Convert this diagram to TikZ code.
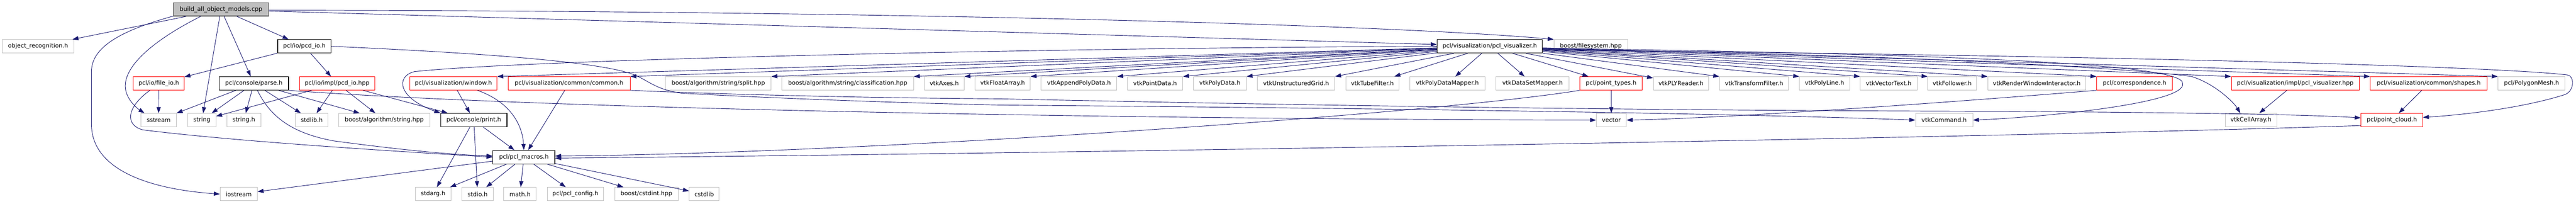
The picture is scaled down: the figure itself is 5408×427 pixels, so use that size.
\documentclass[tikz,border=0pt]{standalone}
\usepackage{fontspec}
\setmainfont{DejaVu Sans}
\usetikzlibrary{arrows.meta}
\definecolor{edgeblue}{RGB}{25,25,112}
\definecolor{extgray}{RGB}{191,191,191}

\begin{document}
\begin{tikzpicture}[x = 0.75pt, y = -0.75pt,
  filebox/.style = {shape = rectangle, minimum height = 21pt, minimum width = #1*0.75pt, inner sep = 0pt, font = \fontsize{9.3}{11}\selectfont, line width = 0.75pt},
  ext/.style = {filebox = #1, draw = extgray},
  doc/.style = {filebox = #1, draw = black, line width = 1pt},
  trunc/.style = {filebox = #1, draw = red},
  rootbox/.style = {filebox = #1, draw = black!70, fill = extgray, line width = 1.1pt},
  dep/.style = {draw = edgeblue, line width = 0.75pt, -{Triangle[length = 9.5pt, width = 6.5pt]}}]
\useasboundingbox (0,0) rectangle (5408,427);

\node[rootbox = 200] (root) at (464,19.7) {build\_all\_object\_models.cpp};

\node[ext = 150] (objrec) at (80,97) {object\_recognition.h};
\node[doc = 112] (pcdio) at (639,97) {pcl/io/pcd\_io.h};
\node[doc = 221] (vis) at (3127.5,97) {pcl/visualization/pcl\_visualizer.h};
\node[ext = 154.5] (fs) at (3339.7,97) {boost/filesystem.hpp};

\node[trunc = 106.7] (fileio) at (333.3,174.7) {pcl/io/file\_io.h};
\node[doc = 145.5] (parse) at (533,174.7) {pcl/console/parse.h};
\node[trunc = 158.4] (pcdhpp) at (707.8,174.7) {pcl/io/impl/pcd\_io.hpp};
\node[trunc = 183] (window) at (951.8,174.7) {pcl/visualization/window.h};
\node[trunc = 256.3] (common) at (1194.6,174.7) {pcl/visualization/common/common.h};
\node[ext = 221.5] (split) at (1508,174.7) {boost/algorithm/string/split.hpp};
\node[ext = 276.4] (classif) at (1779.7,174.7) {boost/algorithm/string/classification.hpp};
\node[ext = 83.5] (axes) at (1982.3,174.7) {vtkAxes.h};
\node[ext = 116] (floatarr) at (2104.9,174.7) {vtkFloatArray.h};
\node[ext = 159] (append) at (2265.2,174.7) {vtkAppendPolyData.h};
\node[ext = 116] (pointdata) at (2425,174.7) {vtkPointData.h};
\node[ext = 111] (polydata) at (2561,174.7) {vtkPolyData.h};
\node[ext = 162.5] (ugrid) at (2721,174.7) {vtkUnstructuredGrid.h};
\node[ext = 110.7] (tube) at (2881.2,174.7) {vtkTubeFilter.h};
\node[ext = 157.6] (pdmapper) at (3038.6,174.7) {vtkPolyDataMapper.h};
\node[ext = 153.6] (dsmapper) at (3217.4,174.7) {vtkDataSetMapper.h};
\node[trunc = 130.8] (ptypes) at (3382.4,174.7) {pcl/point\_types.h};
\node[ext = 116] (ply) at (3529,174.7) {vtkPLYReader.h};
\node[ext = 145] (transf) at (3682.4,174.7) {vtkTransformFilter.h};
\node[ext = 105.3] (polyline) at (3830.4,174.7) {vtkPolyLine.h};
\node[ext = 119.2] (vtext) at (3965,174.7) {vtkVectorText.h};
\node[ext = 102.3] (follower) at (4098.4,174.7) {vtkFollower.h};
\node[ext = 205.4] (rwi) at (4275.9,174.7) {vtkRenderWindowInteractor.h};
\node[trunc = 159] (corr) at (4481.3,174.7) {pcl/correspondence.h};
\node[trunc = 268.3] (vishpp) at (4818.5,174.7) {pcl/visualization/impl/pcl\_visualizer.hpp};
\node[trunc = 245.3] (shapes) at (5098.7,174.7) {pcl/visualization/common/shapes.h};
\node[ext = 140.7] (polymesh) at (5314.7,174.7) {pcl/PolygonMesh.h};

\node[ext = 75] (sstream) at (333,251.5) {sstream};
\node[ext = 58.5] (string) at (423.9,251.5) {string};
\node[ext = 71] (stringh) at (511.8,251.5) {string.h};
\node[ext = 67.9] (stdlib) at (654.5,251.5) {stdlib.h};
\node[ext = 191] (boostalg) at (806.7,251.5) {boost/algorithm/string.hpp};
\node[doc = 139.3] (print) at (994.7,251.5) {pcl/console/print.h};
\node[ext = 63] (vector) at (3382.8,251.5) {vector};
\node[ext = 120] (vtkcmd) at (4081.5,251.5) {vtkCommand.h};
\node[ext = 108] (cellarr) at (4725.5,251.5) {vtkCellArray.h};
\node[trunc = 129.3] (ptcloud) at (5021.3,251.5) {pcl/point\_cloud.h};

\node[doc = 130] (macros) at (1099.8,329) {pcl/pcl\_macros.h};

\node[ext = 78] (iostream) at (501.1,406.5) {iostream};
\node[ext = 74.5] (stdarg) at (909.2,406.5) {stdarg.h};
\node[ext = 65.2] (stdio) at (1002.7,406.5) {stdio.h};
\node[ext = 68.3] (math) at (1091.7,406.5) {math.h};
\node[ext = 118.3] (config) at (1207.9,406.5) {pcl/pcl\_config.h};
\node[ext = 133] (cstdint) at (1357.1,406.5) {boost/cstdint.hpp};
\node[ext = 62.9] (cstdlib) at (1478.4,406.5) {cstdlib};

\draw[dep] (root) -- (objrec);
\draw[dep] (root.188.5) .. controls (250,65) and (192,100) .. (192,150) -- (192,260) .. controls (192,350) and (300,395) .. (iostream.west);
\draw[dep] (root.199) .. controls (340,75) and (263,130) .. (263,180) .. controls (263,205) and (285,225) .. (sstream.154);
\draw[dep] (root) -- (string);
\draw[dep] (root) -- (parse);
\draw[dep] (root) -- (pcdio);
\draw[dep] (root.-2) -- (vis.178);
\draw[dep] (root.-1) .. controls (1800,22) and (2900,50) .. (fs.north west);

\draw[dep] (pcdio) -- (fileio);
\draw[dep] (pcdio) -- (pcdhpp);
\draw[dep] (pcdio.east) .. controls (1100,115) and (1280,135) .. (1335,158) .. controls (1365,172) and (1380,188) .. (1430,195) .. controls (1600,205) and (1900,216) .. (2100,220) .. controls (2800,226) and (3600,236) .. (vtkcmd.west);

\draw[dep] (fileio) -- (sstream);
\draw[dep] (fileio.218) .. controls (265,225) and (262,262) .. (300,272) .. controls (500,297) and (850,318) .. (macros.180);

\draw[dep] (parse) -- (sstream);
\draw[dep] (parse) -- (string);
\draw[dep] (parse) -- (stringh);
\draw[dep] (parse) -- (stdlib);
\draw[dep] (parse) -- (boostalg);
\draw[dep] (parse.297) .. controls (570,250) and (620,280) .. (700,295) .. controls (850,315) and (950,324) .. (macros.178);
\draw[dep] (parse.south east) .. controls (1200,232) and (2500,250) .. (vector.west);

\draw[dep] (pcdhpp) -- (string);
\draw[dep] (pcdhpp) -- (stdlib);
\draw[dep] (pcdhpp) -- (boostalg);
\draw[dep] (pcdhpp) -- (print);

\draw[dep] (window) -- (print);
\draw[dep] (window.344) .. controls (1075,215) and (1097,265) .. (macros.north);
\draw[dep] (common) -- (macros);
\draw[dep] (common.south east) .. controls (1500,197) and (1800,205) .. (2100,207) .. controls (2800,222) and (3500,232) .. (4200,233) .. controls (4600,236) and (4850,240) .. (ptcloud.176);

\draw[dep] (print) -- (stdarg);
\draw[dep] (print) -- (stdio);
\draw[dep] (print) -- (macros);

\draw[dep] (macros) -- (stdarg);
\draw[dep] (macros) -- (stdio);
\draw[dep] (macros) -- (math);
\draw[dep] (macros) -- (config);
\draw[dep] (macros) -- (cstdint);
\draw[dep] (macros) -- (cstdlib);
\draw[dep] (macros) -- (iostream);

\draw[dep] (ptypes) -- (vector);
\draw[dep] (ptypes.south west) .. controls (3000,240) and (1800,322) .. (macros.2);
\draw[dep] (corr.south west) .. controls (4000,222) and (3600,248) .. (vector.east);
\draw[dep] (ptcloud.190) .. controls (4300,285) and (2500,318) .. (macros.-2);
\draw[dep] (vishpp) -- (cellarr);
\draw[dep] (shapes) -- (ptcloud);

\draw[dep] (vis) -- (window.north east);
\draw[dep] (vis) -- (common.north east);
\draw[dep] (vis) -- (split.north east);
\draw[dep] (vis) -- (classif.north east);
\draw[dep] (vis) -- (axes.north east);
\draw[dep] (vis) -- (floatarr.north east);
\draw[dep] (vis) -- (append.north east);
\draw[dep] (vis) -- (pointdata.north east);
\draw[dep] (vis) -- (polydata.north east);
\draw[dep] (vis) -- (ugrid.north east);
\draw[dep] (vis) -- (tube);
\draw[dep] (vis) -- (pdmapper);
\draw[dep] (vis) -- (dsmapper);
\draw[dep] (vis) -- (ptypes);
\draw[dep] (vis) -- (ply);
\draw[dep] (vis) -- (transf.north west);
\draw[dep] (vis) -- (polyline.north west);
\draw[dep] (vis) -- (vtext.north west);
\draw[dep] (vis) -- (follower.north west);
\draw[dep] (vis) -- (rwi.north west);
\draw[dep] (vis) -- (corr.north west);
\draw[dep] (vis) -- (vishpp.north west);
\draw[dep] (vis) -- (shapes.north west);
\draw[dep] (vis) -- (polymesh.north west);
\draw[dep] (vis.180) .. controls (2200,100) and (1100,125) .. (870,150) .. controls (830,160) and (835,205) .. (print.north west);
\draw[dep] (vis.-3) .. controls (3800,110) and (4400,135) .. (4600,160) .. controls (4650,175) and (4690,215) .. (cellarr.147);
\draw[dep] (vis.-2) .. controls (4000,112) and (4590,130) .. (4582,175) .. controls (4592,215) and (4300,245) .. (vtkcmd.east);
\draw[dep] (vis.-4) .. controls (4500,117) and (5250,140) .. (5390,157) .. controls (5405,159) and (5405,190) .. (5385,198) .. controls (5300,225) and (5180,240) .. (ptcloud.5);
\end{tikzpicture}
\end{document}
